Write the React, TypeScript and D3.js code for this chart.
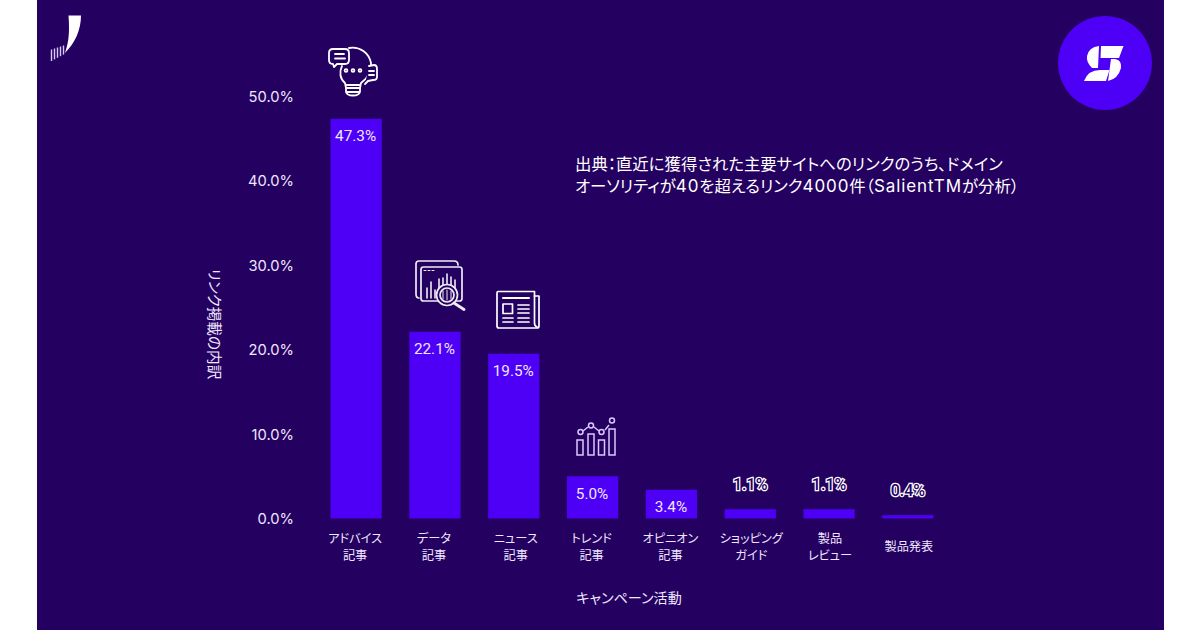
import React from "react";
import * as d3 from "d3";

const categories = ["アドバイス\n記事", "データ\n記事", "ニュース\n記事", "トレンド\n記事", "オピニオン\n記事", "ショッピング\nガイド", "製品\nレビュー", "製品発表"];
const values = [47.3, 22.1, 19.5, 5.0, 3.4, 1.1, 1.1, 0.4];
const valueLabels = ["47.3%", "22.1%", "19.5%", "5.0%", "3.4%", "1.1%", "1.1%", "0.4%"];
const yTicks = [0, 10, 20, 30, 40, 50];
const note = ["出典：直近に獲得された主要サイトへのリンクのうち、ドメイン", "オーソリティが40を超えるリンク4000件（SalientTMが分析）"];
const xTitle = "キャンペーン活動";
const yTitle = "リンク掲載の内訳";

const BG = "#240060";
const BAR = "#4d00f5";
const INK = "#efe6ff";
const JP = "'Noto Sans CJK JP', sans-serif";
const LAT = "Roboto, sans-serif";
const PALT = { fontFeatureSettings: "'palt'" } as React.CSSProperties;

const x = d3.scaleBand<string>().domain(categories).range([330.5, 933.5]).paddingInner(0.35).paddingOuter(0);
const y = d3.scaleLinear().domain([0, 50]).range([518.5, 96]);

function mixed(s: string) {
  return s.split(/([A-Za-z0-9]+)/).map((part, i) =>
    /[A-Za-z0-9]/.test(part) ? (
      <tspan key={i} fontFamily="Inter, sans-serif" fontSize={17} letterSpacing={0.9}>{part}</tspan>
    ) : (
      <tspan key={i}>{part}</tspan>
    )
  );
}

const Bulb = () => (
  <g fill="none" stroke="#fff" strokeWidth={1.8} strokeLinejoin="round" strokeLinecap="round">
    <path d="M342 66 C339 72 340 79 345 83 L346 88 L360 88 L361 83 C368 78 372 71 371 63 C369 53 360 46 349 48" />
    <path d="M333 49 H345 Q349 49 349 53 V60 Q349 64 345 64 H337 L334 67 L333 64 Q329 64 329 60 V53 Q329 49 333 49 Z" fill={BG} />
    <path d="M335 54H344M335 58.500H345" />
    <path d="M369 66 L374 65 Q377 65 377 69 V77 Q377 80 373 80 L368 81 L365 84" fill={BG} />
    <path d="M369 71H374M369 75H374" />
    <circle cx={346} cy={70.500} r={1.4} />
    <circle cx={353} cy={70.500} r={1.4} />
    <circle cx={360} cy={70.500} r={1.4} />
    <path d="M346 88V92H360V88M346 92 Q347 95.500 353 95.500 Q359 95.500 360 92" />
    <path d="M346 85H360" />
  </g>
);

const DataIcon = () => (
  <g fill="none" stroke="#fff" strokeWidth={1.7} strokeLinejoin="round" strokeLinecap="round" opacity={0.92}>
    <path d="M419 298 Q416 298 416 294 V264 Q416 261 419 261 H454 Q458 261 458 265" />
    <rect x={421} y={267} width={41} height={34} rx={2.500} fill={BG} />
    <path d="M424 270.500H426M428 270.500H430M432 270.500H434" strokeWidth={1} />
    <path d="M427 298V288M431 298V282M435 298V290M439 294V279M443 288V278M447 288V274M451 288V277M455 288V280" strokeWidth={1.6} />
    <circle cx={447} cy={295} r={10.500} fill={BG} />
    <circle cx={447} cy={295} r={7} />
    <path d="M443 291V299M447 290V300M451 291V299" strokeWidth={1} />
    <path d="M454 303L464 309.500" strokeWidth={2.800} />
  </g>
);

const NewsIcon = () => (
  <g fill="none" stroke="#fff" strokeWidth={1.7} strokeLinejoin="round" strokeLinecap="round">
    <path d="M498 291.500 Q497 291.500 497 293 V326 Q497 328 499 328 H537 Q539 328 539 326 V296 H534.500 V291.500 Z" />
    <path d="M534.500 296V323Q534.500 326 537 327" />
    <path d="M503 298H529" strokeWidth={2} />
    <rect x={503} y={304} width={9.500} height={9.500} />
    <path d="M518 305H529M518 309H529M518 313H529M503 318H513M503 322H513M518 318H529M518 322H529" />
  </g>
);

const TrendIcon = () => (
  <g fill="none" stroke="#d9c8ff" strokeWidth={1.5}>
    <rect x={577} y={440} width={6} height={15} />
    <rect x={588} y={434} width={6} height={21} />
    <rect x={598.500} y={440} width={6} height={15} />
    <rect x={609} y={429} width={6} height={26} />
    <path d="M583 431L588 427M594 427L599 431M605 430L609 425" />
    <circle cx={580.500} cy={432} r={2.500} />
    <circle cx={591} cy={425.500} r={2.500} />
    <circle cx={601.500} cy={432} r={2.500} />
    <circle cx={612} cy={420.500} r={2.500} />
  </g>
);

export default function App() {
  return (
    <svg width={1200} height={630} viewBox="0 0 1200 630" style={{ position: "fixed", left: 0, top: 0, background: "#fff" }}>
      <rect x={37} y={0} width={1127} height={630} fill={BG} />

      {/* top-left mark */}
      <path d="M68.500 15.500 H81 C81 30 75 43 65 53 C68 44 70 36 68.500 15.500 Z" fill="#fff" />
      <g stroke="#d9c8ff" strokeWidth={1.400}>
        {[51.500, 54.500, 57.500, 60.500, 63.500].map((px, i) => (
          <line key={px} x1={px} x2={px} y1={61 - i * 1.6} y2={49.500 - i * 1} />
        ))}
      </g>

      {/* top-right badge */}
      <circle cx={1105} cy={63} r={47} fill={BAR} />
      <g fill="#fff">
        <path d="M1099 46 L1098 68 H1092 Q1086 62 1087 56 Q1089 47 1099 46 Z" />
        <path d="M1101 46 H1123.500 L1119 58 H1100.500 Z" />
        <path d="M1111 59 H1115 Q1122 60 1121 68 Q1118 79 1108 81 Z" />
        <path d="M1084 81 Q1088 70 1100 70 H1109.500 L1106 81 Z" />
      </g>

      <Bulb />
      <DataIcon />
      <NewsIcon />
      <TrendIcon />

      {yTicks.map((t) => (
        <text key={t} x={294} y={y(t) + 0.500} dy="0.36em" textAnchor="end" fontFamily="Inter, sans-serif" fontSize={14.700} fill={INK}>
          {t.toFixed(1)}%
        </text>
      ))}

      {categories.map((c, i) => {
        const bx = x(c) as number;
        const cx = bx + x.bandwidth() / 2;
        const top = y(values[i]);
        const small = values[i] < 2;
        const lines = c.split("\n");
        const labelShift = i === 2 ? 2 : i >= 5 ? 1 : -1;
        return (
          <g key={c}>
            <rect x={bx} y={top} width={x.bandwidth()} height={y(0) - top} fill={BAR} />
            {small ? (
              <text x={cx} y={top - 19} textAnchor="middle" fontFamily={LAT} fontSize={16} fontWeight={500}
                fill={BG} stroke="#fff" strokeWidth={2.500} paintOrder="stroke">
                {valueLabels[i]}
              </text>
            ) : (
              <text x={cx - 0.500} y={top + 17} dy="0.36em" textAnchor="middle" fontFamily={LAT} fontSize={15.300} fill={INK}>
                {valueLabels[i]}
              </text>
            )}
            {lines.map((l, k) => (
              <text key={l} x={cx + labelShift} y={(lines.length > 1 ? 538.5 : 547) + k * 17.500} dy="0.36em" textAnchor="middle" fontFamily={JP} fontSize={12.200} fill={INK} style={PALT}>
                {l}
              </text>
            ))}
          </g>
        );
      })}

      <text x={629} y={598} dy="0.36em" textAnchor="middle" fontFamily={JP} fontSize={14.100} fill={INK} style={PALT}>{xTitle}</text>
      <text transform="translate(214,324) rotate(90)" dy="0.36em" textAnchor="middle" fontFamily={JP} fontSize={14.600} fill={INK} style={PALT}>{yTitle}</text>

      {note.map((n, i) => (
        <text key={n} x={575} y={164 + i * 22} dy="0.36em" fontFamily={JP} fontSize={16.400} fill="#fff" style={PALT}>{mixed(n)}</text>
      ))}
    </svg>
  );
}
